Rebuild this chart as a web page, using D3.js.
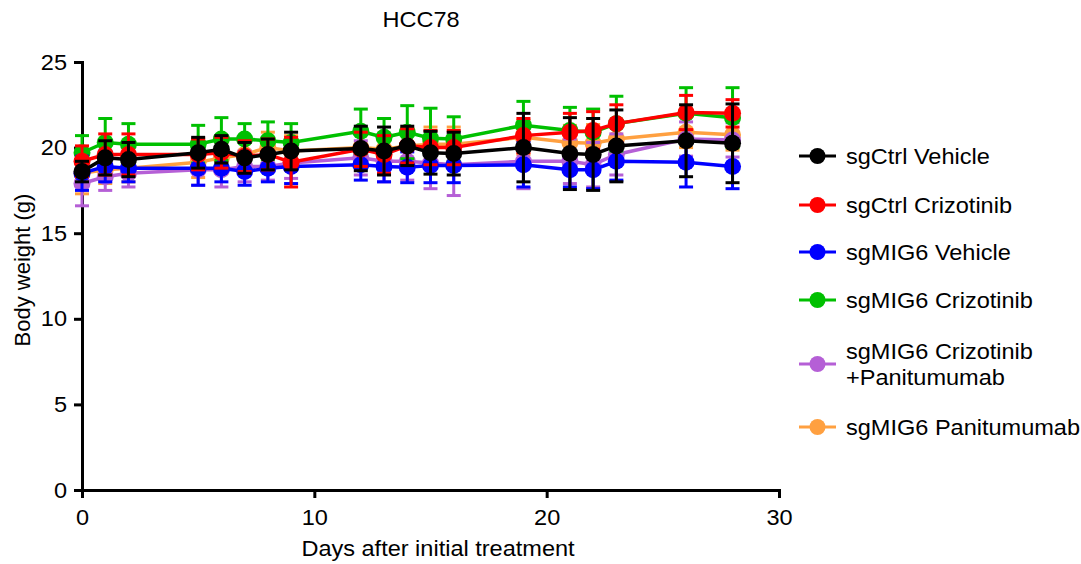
<!DOCTYPE html>
<html>
<head>
<meta charset="utf-8">
<script src="https://cdn.jsdelivr.net/npm/d3@7"></script>
<style>
  body { margin: 0; background: #fff; }
  svg { font-family: Arial, "Liberation Sans", sans-serif; }
  .axis path, .axis line { stroke: #000; stroke-width: 3px; }
  .axis text { font-size: 22px; fill: #000; }
</style>
</head>
<body>
<div id="chart"></div>
<script>
// Days measured
const days = [0, 1, 2, 5, 6, 7, 8, 9, 12, 13, 14, 15, 16, 19, 21, 22, 23, 26, 28];

const seriesNames = ['sgCtrl Vehicle', 'sgCtrl Crizotinib', 'sgMIG6 Vehicle', 'sgMIG6 Crizotinib',
  'sgMIG6 Crizotinib\n+Panitumumab', 'sgMIG6 Panitumumab'];
const seriesColors = ['#000000', '#ff0000', '#0000ff', '#00c000', '#b55fd6', '#ffa040'];

// mean body weight (g)
const ctrlVehicle   = [18.6, 19.4, 19.3, 19.7, 19.9, 19.4, 19.6, 19.8, 19.95, 19.8, 20.1, 19.7, 19.65, 20.0, 19.65, 19.6, 20.1, 20.4, 20.25];
const ctrlCrizo     = [19.2, 19.6, 19.6, 19.6, 19.7, 19.5, 19.6, 19.15, 19.9, 19.6, 20.1, 20.0, 20.0, 20.7, 20.9, 21.0, 21.4, 22.05, 22.0];
const mig6Vehicle   = [18.5, 18.9, 18.8, 18.8, 18.8, 18.6, 18.8, 18.9, 19.0, 18.9, 18.85, 18.95, 18.95, 19.0, 18.7, 18.7, 19.2, 19.15, 18.9];
const mig6Crizo     = [19.7, 20.3, 20.2, 20.2, 20.5, 20.5, 20.4, 20.3, 20.95, 20.6, 20.9, 20.55, 20.5, 21.3, 21.0, 20.9, 21.4, 22.0, 21.75];
const mig6CrizoPani = [17.9, 18.3, 18.5, 18.7, 18.7, 18.9, 18.9, 19.1, 19.4, 19.2, 19.2, 19.1, 19.0, 19.2, 19.2, 19.0, 19.6, 20.5, 20.45];
const mig6Pani      = [18.5, 18.7, 18.8, 19.15, 19.4, 19.6, 20.0, 19.8, 20.0, 19.9, 20.1, 20.2, 20.2, 20.6, 20.3, 20.25, 20.5, 20.9, 20.75];

// error (SEM)
const ctrlVehicleErr   = [0.6, 1.0, 1.0, 0.9, 0.8, 0.9, 0.9, 1.1, 1.3, 1.4, 1.15, 1.25, 1.25, 2.0, 2.1, 2.1, 2.1, 2.1, 2.3];
const ctrlCrizoErr     = [0.9, 1.2, 1.2, 0.9, 0.9, 0.9, 0.9, 1.45, 1.0, 1.1, 1.0, 1.0, 1.0, 1.0, 1.1, 1.1, 1.1, 1.0, 0.8];
const mig6VehicleErr   = [1.0, 0.9, 0.8, 1.0, 0.8, 0.8, 0.8, 1.0, 0.9, 0.9, 0.9, 1.0, 1.0, 1.3, 1.0, 1.1, 1.1, 1.45, 1.3];
const mig6CrizoErr     = [1.0, 1.4, 1.2, 1.1, 1.25, 0.9, 1.1, 1.1, 1.3, 1.1, 1.55, 1.75, 1.3, 1.4, 1.35, 1.35, 1.6, 1.5, 1.75];
const mig6CrizoPaniErr = [1.3, 0.8, 0.8, 0.9, 1.0, 0.9, 0.8, 0.9, 1.0, 1.2, 1.1, 1.5, 1.8, 1.6, 1.3, 1.3, 1.2, 1.0, 1.0];
const mig6PaniErr      = [1.2, 0.8, 0.8, 0.9, 0.9, 0.9, 0.9, 0.9, 0.9, 0.9, 0.9, 1.0, 1.0, 1.0, 1.0, 1.1, 1.0, 0.9, 0.9];

const xTicks = [0, 10, 20, 30];
const yTicks = [0, 5, 10, 15, 20, 25];

const means = [ctrlVehicle, ctrlCrizo, mig6Vehicle, mig6Crizo, mig6CrizoPani, mig6Pani];
const errs = [ctrlVehicleErr, ctrlCrizoErr, mig6VehicleErr, mig6CrizoErr, mig6CrizoPaniErr, mig6PaniErr];

const series = seriesNames.map((name, i) => ({
  name: name,
  color: seriesColors[i],
  values: days.map((d, j) => ({ day: d, mean: means[i][j], err: errs[i][j] }))
}));

const containerWidth = 1081, containerHeight = 564;
const margin = { top: 62, right: 302, bottom: 74, left: 82 };
const width = containerWidth - margin.left - margin.right;
const height = containerHeight - margin.top - margin.bottom;
const stretch = 1.07; // the reference text is a bit wider than Arial

const svg = d3.select('#chart').append('svg')
    .attr('width', containerWidth)
    .attr('height', containerHeight);

const chart = svg.append('g')
    .attr('transform', `translate(${margin.left},${margin.top})`);

const xScale = d3.scaleLinear().domain([0, 30]).range([0, width]);
const yScale = d3.scaleLinear().domain([0, 25]).range([height, 0]);

// Axes
chart.append('g')
    .attr('class', 'axis x-axis')
    .attr('transform', `translate(0,${height})`)
    .call(d3.axisBottom(xScale).tickValues(xTicks).tickSize(8).tickPadding(11).tickSizeOuter(0))
    .call(g => g.select('.domain').attr('stroke-linecap', 'square'))
    .call(g => g.selectAll('text').attr('transform', `scale(${stretch},1)`));

chart.append('g')
    .attr('class', 'axis y-axis')
    .call(d3.axisLeft(yScale).tickValues(yTicks).tickSize(8).tickPadding(6).tickSizeOuter(0))
    .call(g => g.select('.domain').attr('stroke-linecap', 'square'))
    .call(g => g.selectAll('text').attr('transform', `scale(${stretch},1)`));

// Title and axis titles
const hText = (x, y, str) => svg.append('text')
    .attr('transform', `translate(${x},${y}) scale(${stretch},1)`)
    .attr('text-anchor', 'middle')
    .style('font-size', '22px')
    .text(str);

hText(421, 27, 'HCC78');
hText(438, 556, 'Days after initial treatment');

svg.append('text')
    .attr('transform', `translate(30,270) rotate(-90)`)
    .attr('text-anchor', 'middle')
    .style('font-size', '22px')
    .text('Body weight (g)');

// Draw last legend item first so black ends up on top
const drawOrder = series.slice().reverse();

const line = d3.line()
    .x(d => xScale(d.day))
    .y(d => yScale(d.mean));

const groups = chart.selectAll('.series')
    .data(drawOrder)
    .join('g')
    .attr('class', 'series');

groups.append('path')
    .attr('fill', 'none')
    .attr('stroke', d => d.color)
    .attr('stroke-width', 3.5)
    .attr('d', d => line(d.values));

const capHalf = 7;
groups.each(function(s) {
  const g = d3.select(this);
  const bars = g.selectAll('.err')
      .data(s.values)
      .join('g')
      .attr('class', 'err')
      .attr('stroke', s.color)
      .attr('stroke-width', 3);
  bars.append('line')
      .attr('x1', d => xScale(d.day)).attr('x2', d => xScale(d.day))
      .attr('y1', d => yScale(d.mean - d.err)).attr('y2', d => yScale(d.mean + d.err));
  bars.append('line')
      .attr('x1', d => xScale(d.day) - capHalf).attr('x2', d => xScale(d.day) + capHalf)
      .attr('y1', d => yScale(d.mean + d.err)).attr('y2', d => yScale(d.mean + d.err));
  bars.append('line')
      .attr('x1', d => xScale(d.day) - capHalf).attr('x2', d => xScale(d.day) + capHalf)
      .attr('y1', d => yScale(d.mean - d.err)).attr('y2', d => yScale(d.mean - d.err));
  g.selectAll('.point')
      .data(s.values)
      .join('circle')
      .attr('class', 'point')
      .attr('cx', d => xScale(d.day))
      .attr('cy', d => yScale(d.mean))
      .attr('r', 8.5)
      .attr('fill', s.color);
});

// Legend
const legendY = [156, 205, 252, 300, 364, 427];
const legend = svg.append('g').attr('class', 'legend');
const legendItem = legend.selectAll('.legend-item')
    .data(series)
    .join('g')
    .attr('class', 'legend-item')
    .attr('transform', (d, i) => `translate(799,${legendY[i]})`);

legendItem.append('line')
    .attr('x1', 0).attr('x2', 37)
    .attr('stroke', d => d.color)
    .attr('stroke-width', 3);

legendItem.append('circle')
    .attr('cx', 18.5).attr('r', 8)
    .attr('fill', d => d.color);

legendItem.append('text')
    .attr('transform', `translate(47,0) scale(${stretch},1)`)
    .style('font-size', '22px')
    .each(function(d) {
      const lines = d.name.split('\n');
      const t = d3.select(this);
      lines.forEach((l, k) => {
        t.append('tspan')
            .attr('x', 0)
            .attr('dy', k === 0 ? (lines.length > 1 ? '-0.25em' : '0.35em') : '1.2em')
            .text(l);
      });
    });
</script>
</body>
</html>
